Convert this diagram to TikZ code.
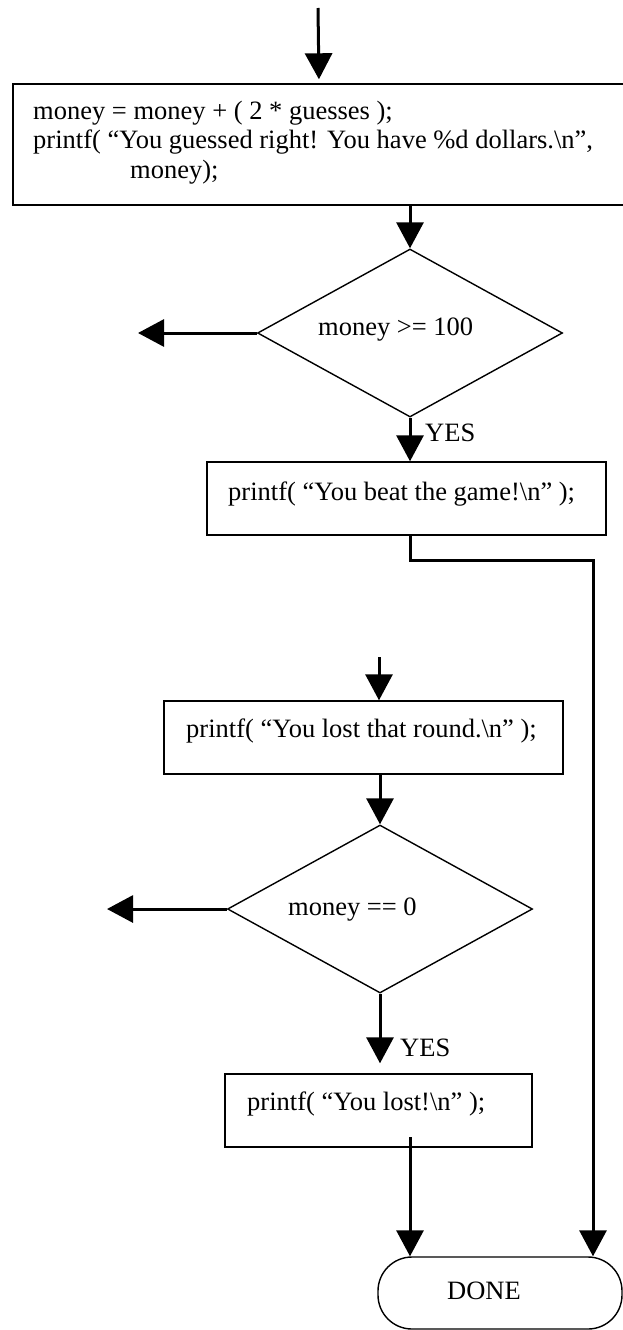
\documentclass[tikz,border=0pt]{standalone}
\usepackage{fontspec}
\setmainfont{Liberation Serif}
\usetikzlibrary{arrows.meta,shapes.geometric}
\tikzset{
  boxshape/.style={draw, line width=1.4pt, rectangle, inner sep=0pt},
  decision/.style={draw, line width=1.4pt, diamond, inner sep=0pt, minimum width=305pt, minimum height=168pt},
  terminal/.style={draw, line width=1.4pt, rectangle, rounded corners=34pt, inner sep=0pt, minimum width=244pt, minimum height=72pt},
  txt/.style={inner sep=0pt, anchor=base west, font=\fontsize{26.5}{29.5}\selectfont},
  flow/.style={line width=3pt, -{Triangle[length=26pt,width=27pt]}}
}
\begin{document}
\begin{tikzpicture}[x=1pt,y=-1pt]
\useasboundingbox (0,0) rectangle (623,1330);
% shapes
\node[boxshape, minimum width=612pt, minimum height=121pt] (box1) at (319,144.5) {};
\node[decision] (d1) at (410,333) {};
\node[boxshape, minimum width=399pt, minimum height=73pt] (box2) at (406.5,498.5) {};
\node[boxshape, minimum width=399pt, minimum height=73pt] (box3) at (363.5,737.5) {};
\node[decision] (d2) at (380,909) {};
\node[boxshape, minimum width=307pt, minimum height=73pt] (box4) at (378.5,1110.5) {};
\node[terminal] (done) at (500,1293) {};
% texts
\node[txt] (t1a) at (33,119) {money = money + ( 2 * guesses );};
\node[txt] (t1b) at (33,148) {printf( “You guessed right! You have \%d dollars.\textbackslash n”,};
\node[txt] (t1c) at (130,178) {money);};
\node[txt] (td1) at (318,335) {money >= 100};
\node[txt] (yes1) at (425,441) {YES};
\node[txt] (t2) at (228,500) {printf( “You beat the game!\textbackslash n” );};
\node[txt] (t3) at (186,737) {printf( “You lost that round.\textbackslash n” );};
\node[txt] (td2) at (288,915) {money == 0};
\node[txt] (yes2) at (400,1056) {YES};
\node[txt] (t4) at (247,1110) {printf( “You lost!\textbackslash n” );};
\node[txt] (tdone) at (447,1299) {DONE};
% free ends
\coordinate (top) at (318,8);
\coordinate (l1) at (138,333);
\coordinate (r1) at (593,560);
\coordinate (in3) at (379,657);
\coordinate (l2) at (107,909);
\coordinate (o4) at (410,1137);
% connectors
\draw[flow, shorten >=4pt] (top) -- (box1.north);
\draw[flow] (box1.south -| d1.north) -- (d1.north);
\draw[flow] (d1.west) -- (l1);
\draw[flow] (d1.south) -- (d1.south |- box2.north);
\draw[flow] (box2.south -| d1.south) |- (r1) -- (r1 |- done.north);
\draw[flow] (in3) -- (in3 |- box3.north);
\draw[flow] (d2.north |- box3.south) -- (d2.north);
\draw[flow] (d2.west) -- (l2);
\draw[flow, shorten >=10pt] (d2.south) -- (d2.south |- box4.north);
\draw[flow] (o4) -- (o4 |- done.north);
\end{tikzpicture}
\end{document}
